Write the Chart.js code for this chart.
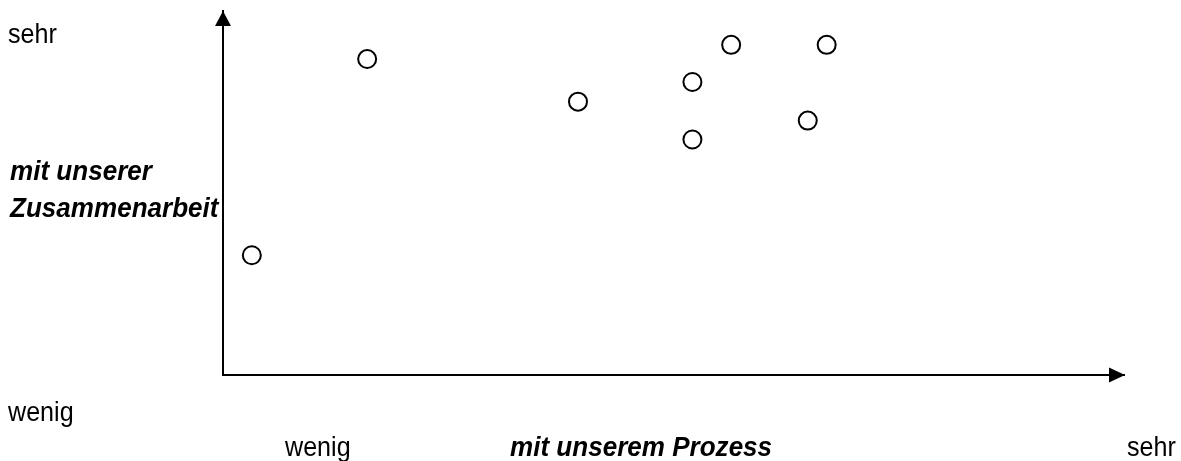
<!DOCTYPE html>
<html>
<head>
<meta charset="utf-8">
<script src="https://cdn.jsdelivr.net/npm/chart.js@4"></script>
<style>
  html, body { margin: 0; padding: 0; background: #fff; }
  canvas { display: block; }
</style>
</head>
<body>
<canvas id="scatterChart" width="1181" height="461"></canvas>
<script>
// Werte (Skala 0..10)
const prozessValues = [0.32, 1.60, 3.94, 5.21, 5.21, 5.64, 6.49, 6.70];
const zusammenarbeitValues = [3.29, 8.68, 7.51, 8.05, 6.47, 9.07, 6.99, 9.07];
const axisRange = [0, 10];
const lowLabel = 'wenig';
const highLabel = 'sehr';
const xTitle = 'mit unserem Prozess';
const yTitleLines = ['mit unserer', 'Zusammenarbeit'];

const points = prozessValues.map((x, i) => ({ x: x, y: zusammenarbeitValues[i] }));

const FONT = '"Liberation Sans", Arial, sans-serif';

function drawText(ctx, text, x, y, bold, squeeze) {
  ctx.save();
  ctx.font = (bold ? 'italic bold ' : '') + '27px ' + FONT;
  ctx.fillStyle = '#000';
  ctx.textBaseline = 'alphabetic';
  ctx.textAlign = 'left';
  ctx.translate(x, y);
  ctx.scale(squeeze, 1);
  ctx.fillText(text, 0, 0);
  ctx.restore();
}

const annotations = {
  id: 'annotations',
  afterDraw(chart) {
    const ctx = chart.ctx;
    const area = chart.chartArea;

    // Pfeilspitzen
    ctx.save();
    ctx.fillStyle = '#000';
    ctx.beginPath();
    ctx.moveTo(area.left, area.top);
    ctx.lineTo(area.left - 8, area.top + 15);
    ctx.lineTo(area.left + 8, area.top + 15);
    ctx.closePath();
    ctx.fill();
    ctx.beginPath();
    ctx.moveTo(area.right + 1, area.bottom);
    ctx.lineTo(area.right - 15, area.bottom - 7.5);
    ctx.lineTo(area.right - 15, area.bottom + 7.5);
    ctx.closePath();
    ctx.fill();
    ctx.restore();

    // Beschriftungen
    drawText(ctx, highLabel, 8, 43, false, 0.93);
    drawText(ctx, yTitleLines[0], 10, 180, true, 0.965);
    drawText(ctx, yTitleLines[1], 10, 217, true, 0.965);
    drawText(ctx, lowLabel, 8, 421, false, 0.93);
    drawText(ctx, lowLabel, 285, 456, false, 0.93);
    drawText(ctx, xTitle, 510, 456, true, 0.965);
    drawText(ctx, highLabel, 1127, 456, false, 0.93);
  }
};

new Chart(document.getElementById('scatterChart').getContext('2d'), {
  type: 'scatter',
  data: {
    datasets: [{
      data: points,
      pointStyle: 'circle',
      pointRadius: 9,
      pointHoverRadius: 9,
      pointBorderWidth: 2,
      pointBackgroundColor: '#fff',
      pointBorderColor: '#000'
    }]
  },
  options: {
    responsive: false,
    animation: false,
    events: [],
    layout: {
      padding: { left: 223, top: 10, right: 57, bottom: 86 }
    },
    plugins: {
      legend: { display: false },
      tooltip: { enabled: false }
    },
    scales: {
      x: {
        type: 'linear',
        min: axisRange[0],
        max: axisRange[1],
        grid: { display: false, drawTicks: false },
        ticks: { display: false },
        border: { display: true, color: '#000', width: 2 },
        afterFit: s => { s.height = 0; }
      },
      y: {
        type: 'linear',
        min: axisRange[0],
        max: axisRange[1],
        grid: { display: false, drawTicks: false },
        ticks: { display: false },
        border: { display: true, color: '#000', width: 2 },
        afterFit: s => { s.width = 0; }
      }
    }
  },
  plugins: [annotations]
});
</script>
</body>
</html>
